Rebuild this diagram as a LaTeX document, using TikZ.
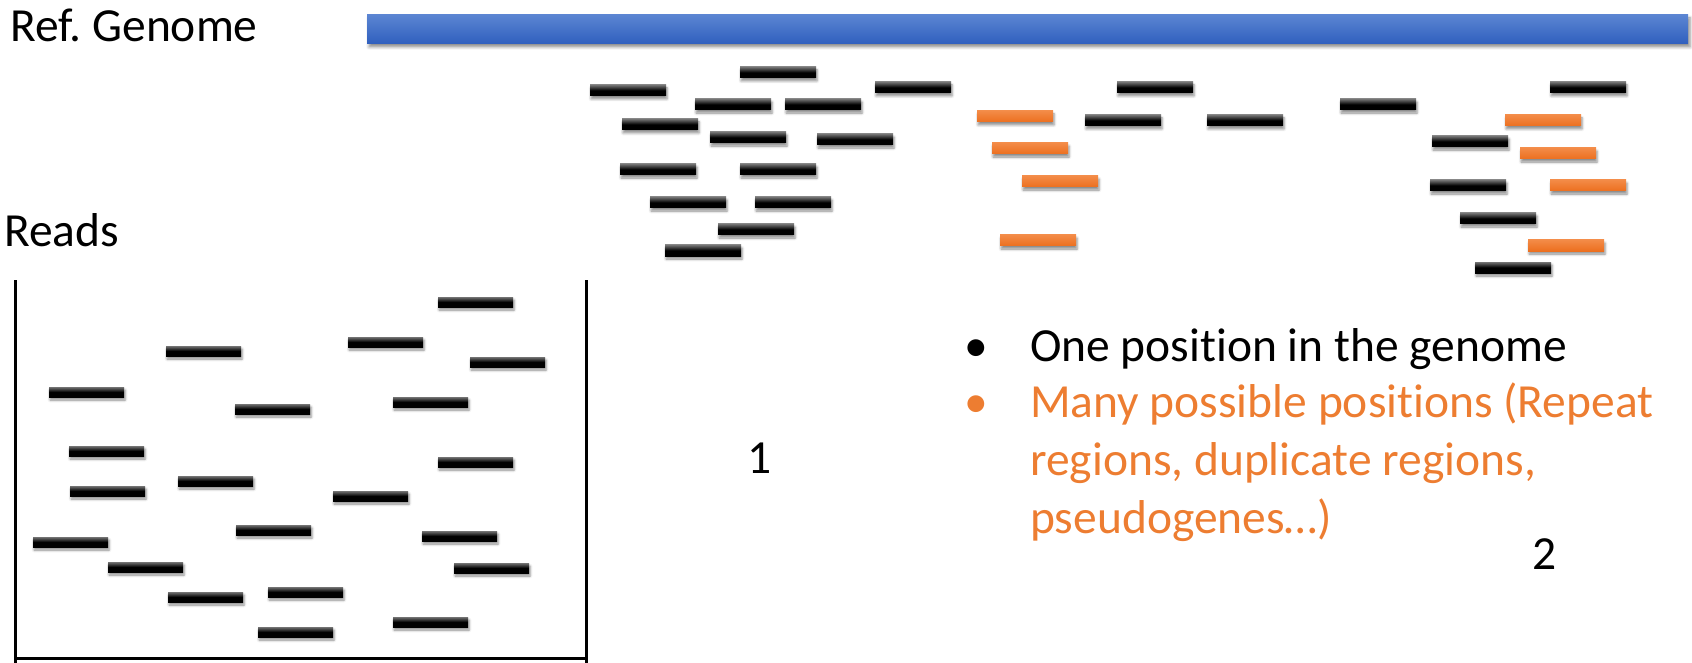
\documentclass[tikz,border=0pt]{standalone}
\usepackage{fontspec}
\setmainfont{Carlito}[Ligatures=NoCommon]
\usetikzlibrary{shadows.blur}
\definecolor{ored}{HTML}{ED7D31}
\definecolor{otop}{HTML}{F38B47}
\definecolor{obot}{HTML}{EC6F1F}
\definecolor{btop}{HTML}{5B85D2}
\definecolor{bbot}{HTML}{2F5FBE}
\frenchspacing
\begin{document}
\begin{tikzpicture}[x=1pt,y=-1pt,
  bshadow/.style={blur shadow={shadow xshift=1pt,shadow yshift=-3pt,shadow blur radius=2.5pt,shadow opacity=45}},
  blackread/.style={bshadow, top color=black!55, bottom color=black, middle color=black},
  orangeread/.style={bshadow, top color=otop, bottom color=obot},
  txt/.style={font=\fontsize{47.5}{57}\selectfont, inner sep=0pt, anchor=base west}
]
\useasboundingbox (0,0) rectangle (1692,663);
% reference genome
\fill[top color=btop, bottom color=bbot, blur shadow={shadow xshift=2pt,shadow yshift=-3pt,shadow blur radius=3pt,shadow opacity=45}] (367,15) rectangle (1688,44);
% labels
\node[txt] (ref) at (10,42) {Ref.\ Genome};
\node[txt] (reads) at (4,247) {Reads};
\node[txt, anchor=base] (n1) at (759.5,473) {1};
\node[txt, anchor=base] (n2) at (1544.5,569) {2};
\node[txt, anchor=base] (b1) at (976,361) {•};
\node[txt, anchor=base, text=ored] (b2) at (976,417) {•};
\node[txt] (l1) at (1030,361) {One position in the genome};
\node[txt, text=ored] (l2) at (1030,417) {Many possible positions (Repeat};
\node[txt, text=ored] (l3) at (1030,475) {regions, duplicate regions,};
\node[txt, text=ored] (l4) at (1030,533) {pseudogenes…)};
% box
\draw[line width=3pt] (15,280) -- (15,663);
\draw[line width=3pt] (586,280) -- (586,663);
\draw[line width=3pt] (15,658) -- (586,658);
% reads in box
\foreach \x/\y in {438/297,348/337,166/346,470/357,49/387,235/404,393/397,69/446,438/457,178/476,70/486,333/491,236/525,422/531,33/537,108/562,454/563,168/592,268/587,393/617,258/627}
  \fill[blackread] (\x,\y) rectangle ++(75,10);
% mapped reads, unique
\foreach \x/\y in {740/67,590/85,875/82,695/99,785/99,622/119,710/132,817/134,620/164,740/164,650/197,755/197,718/224,665/245,1117/82,1085/115,1207/115,1340/99,1550/82,1432/136,1430/180,1460/213,1475/262}
  \fill[blackread] (\x,\y) rectangle ++(76,11);
% mapped reads, multiple
\foreach \x/\y in {977/111,992/143,1022/176,1000/235,1505/115,1520/148,1550/180,1528/240}
  \fill[orangeread] (\x,\y) rectangle ++(76,11);
\end{tikzpicture}
\end{document}
